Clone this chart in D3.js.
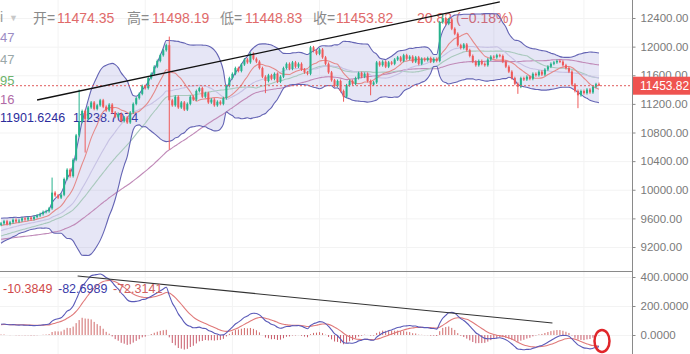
<!DOCTYPE html>
<html>
<head>
<meta charset="utf-8">
<script src="https://cdn.jsdelivr.net/npm/d3@7/dist/d3.min.js"></script>
<style>
  body { margin: 0; background: #fff; }
  text { font-family: Arial, "Liberation Sans", "Noto Sans CJK SC", sans-serif; }
</style>
</head>
<body>
<div id="chart"></div>
<script>
// chart size
const width = 690;
const height = 354;
const plot_right = 632;

// closes before the visible window (only used to warm up the indicators)
const history_closes = [
  9180, 9150, 9210, 9190, 9230, 9170, 9140, 9200, 9220, 9180,
  9160, 9130, 9170, 9150, 9190, 9210, 9180, 9230, 9260, 9240,
  9280, 9250, 9300, 9330, 9310, 9360, 9340, 9390, 9420, 9400,
  9440, 9470, 9450, 9480, 9510, 9490, 9520, 9500, 9540, 9510
];

// visible closes, one per candle
const closes = [
  9530, 9560, 9520, 9545, 9580, 9555, 9570, 9600, 9585, 9610,
  9590, 9620, 9640, 9660, 9690, 9700, 9740, 9960, 9920, 9890,
  9930, 10150, 10280, 10190, 10420, 10760, 10950, 11100, 10990, 11150,
  11220, 11130, 11180, 11250, 11160, 11110, 11190, 11080, 11020, 11060,
  10960, 11010, 10940, 11080, 11200, 11280, 11340, 11450, 11420, 11560,
  11620, 11720, 11800, 11880, 11950, 12020, 11250, 11180, 11300, 11150,
  11220, 11120, 11200, 11300, 11260, 11380, 11420, 11300, 11350, 11220,
  11260, 11180, 11230, 11200, 11280, 11450, 11560, 11620, 11700, 11660,
  11750, 11820, 11780, 11900, 11830, 11790, 11700, 11580, 11520, 11600,
  11550, 11620, 11510, 11580, 11700, 11760, 11690, 11780, 11720, 11760,
  11680, 11640, 11620, 11990, 11940, 11900, 11960, 11850, 11760, 11640,
  11530, 11450, 11520, 11380, 11300, 11460, 11520, 11480, 11560, 11630,
  11580, 11620, 11520, 11470, 11500, 11780, 11740, 11790, 11720, 11780,
  11760, 11820, 11850, 11800, 11880, 11830, 11860, 11790, 11850, 11760,
  11830, 11810, 11840, 11790, 11830, 11800, 12340, 12400, 12320, 12380,
  12250, 12180, 12020, 11980, 12030, 11950, 11870, 11790, 11740, 11800,
  11760, 11740, 11820, 11860, 11850, 11880, 11870, 11790, 11720, 11650,
  11560, 11480, 11440, 11560, 11540, 11580, 11550, 11620, 11600, 11650,
  11610, 11680, 11720, 11760, 11780, 11800, 11790, 11740, 11700, 11650,
  11470, 11380, 11320, 11380, 11350, 11400, 11360, 11440, 11474.35, 11453.82
];

// long wicks: [index, high, low]
const spikes = [
  [17, 10170, null], [26, 11400, null], [28, null, 10520], [56, 12140, 10560],
  [88, null, 11350], [114, null, 11230], [123, null, 11320], [147, 12460, null],
  [172, null, 11340], [192, null, 11140]
];

// last candle
const last_open = 11474.35, last_high = 11498.19, last_low = 11448.83, last_close = 11453.82;

const price_ticks = [9200, 9600, 10000, 10400, 10800, 11200, 11600, 12000, 12400];
const macd_ticks = [0, 200, 400];

// hand-drawn trend lines: [candle index, value]
const price_trend = [[12, 11254], [166, 12624]];
const macd_trend = [[25.5, 407], [183.5, 83]];

const up_color = "#26b28c";
const down_color = "#ef5a5a";

// indicators
const all_closes = history_closes.concat(closes);
const n_hist = history_closes.length;

const sma = (arr, n) => arr.map((d, i) => d3.mean(arr.slice(Math.max(0, i - n + 1), i + 1)));
const ema = (arr, n) => {
    const k = 2 / (n + 1);
    let out = [];
    arr.forEach((d, i) => out.push(i === 0 ? d : d * k + out[i - 1] * (1 - k)));
    return out;
};

const bb_mid = sma(all_closes, 20);
const bb_sd = all_closes.map((d, i) => d3.deviation(all_closes.slice(Math.max(0, i - 19), i + 1)) || 0);
const bb_up = bb_mid.map((m, i) => m + 2 * bb_sd[i]).slice(n_hist);
const bb_low = bb_mid.map((m, i) => m - 2 * bb_sd[i]).slice(n_hist);
const ma_fast = sma(all_closes, 10).slice(n_hist);
const ma_mid = sma(all_closes, 30).slice(n_hist);
const ma_slow = sma(all_closes, 60).slice(n_hist);
const ma_band = bb_mid.slice(n_hist);

const ema12 = ema(all_closes, 12);
const ema26 = ema(all_closes, 26);
const dif_all = ema12.map((d, i) => d - ema26[i]);
const dea_all = ema(dif_all, 9);
const dif = dif_all.slice(n_hist);
const dea = dea_all.slice(n_hist);
const hist = dif.map((d, i) => d - dea[i]);

// candles
const candles = closes.map((c, i) => {
    let o = i === 0 ? history_closes[n_hist - 1] : closes[i - 1];
    let h = Math.max(o, c) + 20, l = Math.min(o, c) - 20;
    if (i === closes.length - 1) { o = last_open; h = last_high; l = last_low; c = last_close; }
    spikes.forEach(s => {
        if (s[0] === i) {
            if (s[1] != null) h = s[1];
            if (s[2] != null) l = s[2];
        }
    });
    return {i: i, o: o, h: h, l: l, c: c};
});

// svg
const svg = d3.select("#chart").append("svg")
    .attr("width", width)
    .attr("height", height);

const x = d3.scaleBand()
    .domain(d3.range(closes.length))
    .range([0, 600])
    .paddingInner(0.33);
const cx = i => x(0) + i * x.step() + x.bandwidth() / 2;

const y = d3.scaleLinear().domain([9200, 12400]).range([247, 18]);
const y_macd = d3.scaleLinear().domain([0, 400]).range([335, 277]);

svg.append("defs").append("clipPath").attr("id", "main_clip")
    .append("rect").attr("x", 0).attr("y", 0).attr("width", plot_right).attr("height", 271);
svg.select("defs").append("clipPath").attr("id", "macd_clip")
    .append("rect").attr("x", 0).attr("y", 272).attr("width", plot_right).attr("height", 82);

// grid
const grid = svg.append("g").attr("stroke", "#f3f3f3").attr("stroke-width", 1);
[19, 48, 77, 106, 135, 164, 194].forEach(i => {
    grid.append("line").attr("x1", cx(i)).attr("x2", cx(i)).attr("y1", 0).attr("y2", height);
});
price_ticks.forEach(t => {
    grid.append("line").attr("x1", 0).attr("x2", plot_right).attr("y1", y(t) + 0.5).attr("y2", y(t) + 0.5);
});
macd_ticks.forEach(t => {
    grid.append("line").attr("x1", 0).attr("x2", plot_right).attr("y1", y_macd(t) + 0.5).attr("y2", y_macd(t) + 0.5);
});

// header text (under the drawings)
const head = svg.append("g").attr("font-size", 14);
head.append("text").attr("x", 0).attr("y", 22).attr("fill", "#999").text("i");
head.append("text").attr("x", 9).attr("y", 21).attr("fill", "#c8c8c8").attr("font-size", 9).text("▼");
const head_items = [
    ["开=", 33, "11474.35", 57],
    ["高=", 127, "11498.19", 152],
    ["低=", 220, "11448.83", 245],
    ["收=", 313, "11453.82", 336]
];
head_items.forEach(d => {
    head.append("text").attr("x", d[1]).attr("y", 23).attr("fill", "#8a8a8a").text(d[0]);
    head.append("text").attr("x", d[3]).attr("y", 23).attr("fill", "#e06a6a").text(d[2]);
});
head.append("text").attr("x", 417).attr("y", 23).attr("fill", "#e06a6a").text("20.82 (−0.18%)");

const legend_rows = [
    ["47", 42, "#9b8cc4"],
    ["47", 64, "#9aa8a8"],
    ["95", 85, "#6db36d"],
    ["16", 104, "#b06aa6"]
];
legend_rows.forEach(d => {
    svg.append("text").attr("x", 0).attr("y", d[1]).attr("font-size", 13).attr("fill", d[2]).text(d[0]);
});
svg.append("text").attr("x", 0).attr("y", 122).attr("font-size", 12.5).attr("fill", "#2c2c9c").text("11901.6246");
svg.append("text").attr("x", 73).attr("y", 122).attr("font-size", 12.5).attr("fill", "#2c2c9c").text("11238.7074");

// main panel
const main = svg.append("g").attr("clip-path", "url(#main_clip)");

main.append("path")
    .datum(d3.range(closes.length))
    .attr("fill", "rgba(115,115,205,0.18)")
    .attr("d", d3.area().x(i => cx(i)).y0(i => y(bb_low[i])).y1(i => y(bb_up[i])).curve(d3.curveMonotoneX));

const line_of = arr => d3.line().x((d, i) => cx(i)).y(d => y(d)).curve(d3.curveMonotoneX)(arr);
[
    [ma_slow, "#c08ab8"],
    [ma_mid, "#a9c9bd"],
    [ma_band, "#c7c2e4"],
    [ma_fast, "#e58a8a"],
    [bb_up, "#6464b4"],
    [bb_low, "#6464b4"]
].forEach(d => {
    main.append("path").attr("d", line_of(d[0])).attr("fill", "none")
        .attr("stroke", d[1]).attr("stroke-width", 1.1);
});

main.selectAll(".wick")
    .data(candles)
    .enter()
    .append("line")
    .attr("class", "wick")
    .attr("x1", d => cx(d.i)).attr("x2", d => cx(d.i))
    .attr("y1", d => y(d.h)).attr("y2", d => y(d.l))
    .attr("stroke", d => d.c >= d.o ? up_color : down_color)
    .attr("stroke-width", 1);

main.selectAll(".body")
    .data(candles)
    .enter()
    .append("rect")
    .attr("class", "body")
    .attr("x", d => x(d.i))
    .attr("width", x.bandwidth())
    .attr("y", d => y(Math.max(d.o, d.c)))
    .attr("height", d => Math.max(1, Math.abs(y(d.o) - y(d.c))))
    .attr("fill", d => d.c >= d.o ? up_color : down_color);

// last price line
main.append("line")
    .attr("x1", 0).attr("x2", plot_right)
    .attr("y1", y(last_close)).attr("y2", y(last_close))
    .attr("stroke", "#e05a5a").attr("stroke-width", 1).attr("stroke-dasharray", "2,2");

// trend line
main.append("line")
    .attr("x1", cx(price_trend[0][0])).attr("y1", y(price_trend[0][1]))
    .attr("x2", cx(price_trend[1][0])).attr("y2", y(price_trend[1][1]))
    .attr("stroke", "#111").attr("stroke-width", 1.3);

// separator
svg.append("line").attr("x1", 0).attr("x2", width).attr("y1", 271.5).attr("y2", 271.5)
    .attr("stroke", "#8a8a8a").attr("stroke-width", 1);

// macd panel
const macd_g = svg.append("g").attr("clip-path", "url(#macd_clip)");

macd_g.selectAll(".hist")
    .data(hist)
    .enter()
    .append("line")
    .attr("class", "hist")
    .attr("x1", (d, i) => cx(i)).attr("x2", (d, i) => cx(i))
    .attr("y1", y_macd(0)).attr("y2", d => y_macd(d))
    .attr("stroke", d => d >= 0 ? "#d06a6a" : "#c85a6a")
    .attr("stroke-width", 1);

const macd_line = arr => d3.line().x((d, i) => cx(i)).y(d => y_macd(d)).curve(d3.curveMonotoneX)(arr);
macd_g.append("path").attr("d", macd_line(dea)).attr("fill", "none").attr("stroke", "#e07a7a").attr("stroke-width", 1.1);
macd_g.append("path").attr("d", macd_line(dif)).attr("fill", "none").attr("stroke", "#5a5ab8").attr("stroke-width", 1.1);

macd_g.append("line")
    .attr("x1", cx(macd_trend[0][0])).attr("y1", y_macd(macd_trend[0][1]))
    .attr("x2", cx(macd_trend[1][0])).attr("y2", y_macd(macd_trend[1][1]))
    .attr("stroke", "#333").attr("stroke-width", 1.1);

svg.append("text").attr("x", 3).attr("y", 293).attr("font-size", 12.5).attr("fill", "#d04a4a").text("-10.3849");
svg.append("text").attr("x", 58).attr("y", 293).attr("font-size", 12.5).attr("fill", "#3a3aa8").text("-82.6989");
svg.append("text").attr("x", 113).attr("y", 293).attr("font-size", 12.5).attr("fill", "#d06060").text("-72.3141");

// red circle annotation
svg.append("ellipse")
    .attr("cx", cx(200)).attr("cy", y_macd(-41))
    .attr("rx", 7.5).attr("ry", 11)
    .attr("fill", "none").attr("stroke", "#e0262a").attr("stroke-width", 2.5);

// right axes
svg.append("rect").attr("x", plot_right + 1).attr("y", 0).attr("width", width - plot_right).attr("height", height).attr("fill", "#fff");
svg.append("line").attr("x1", plot_right + 0.5).attr("x2", plot_right + 0.5).attr("y1", 0).attr("y2", height)
    .attr("stroke", "#8a8a8a");

const price_axis = svg.append("g")
    .attr("transform", `translate(${plot_right + 0.5}, 0)`)
    .call(d3.axisRight(y).tickValues(price_ticks).tickFormat(d3.format(".2f")).tickSize(3).tickPadding(5));
const macd_axis = svg.append("g")
    .attr("transform", `translate(${plot_right + 0.5}, 0)`)
    .call(d3.axisRight(y_macd).tickValues(macd_ticks).tickFormat(d3.format(".4f")).tickSize(3).tickPadding(5));
[price_axis, macd_axis].forEach(a => {
    a.select(".domain").remove();
    a.selectAll("line").attr("stroke", "#8a8a8a");
    a.selectAll("text").attr("fill", "#7a7a7a").attr("font-size", 11.5)
        .attr("font-family", "Arial, 'Liberation Sans', sans-serif");
});

// last price tag (sits over the 11600 label, as in the source chart)
svg.append("rect")
    .attr("x", plot_right + 1).attr("y", y(last_close) - 9)
    .attr("width", width - plot_right - 1).attr("height", 18)
    .attr("fill", "#ef5350");
svg.append("text")
    .attr("x", plot_right + 8).attr("y", y(last_close))
    .attr("dy", "0.35em")
    .attr("font-size", 12)
    .attr("fill", "#fff")
    .text(d3.format(".2f")(last_close));
</script>
</body>
</html>
